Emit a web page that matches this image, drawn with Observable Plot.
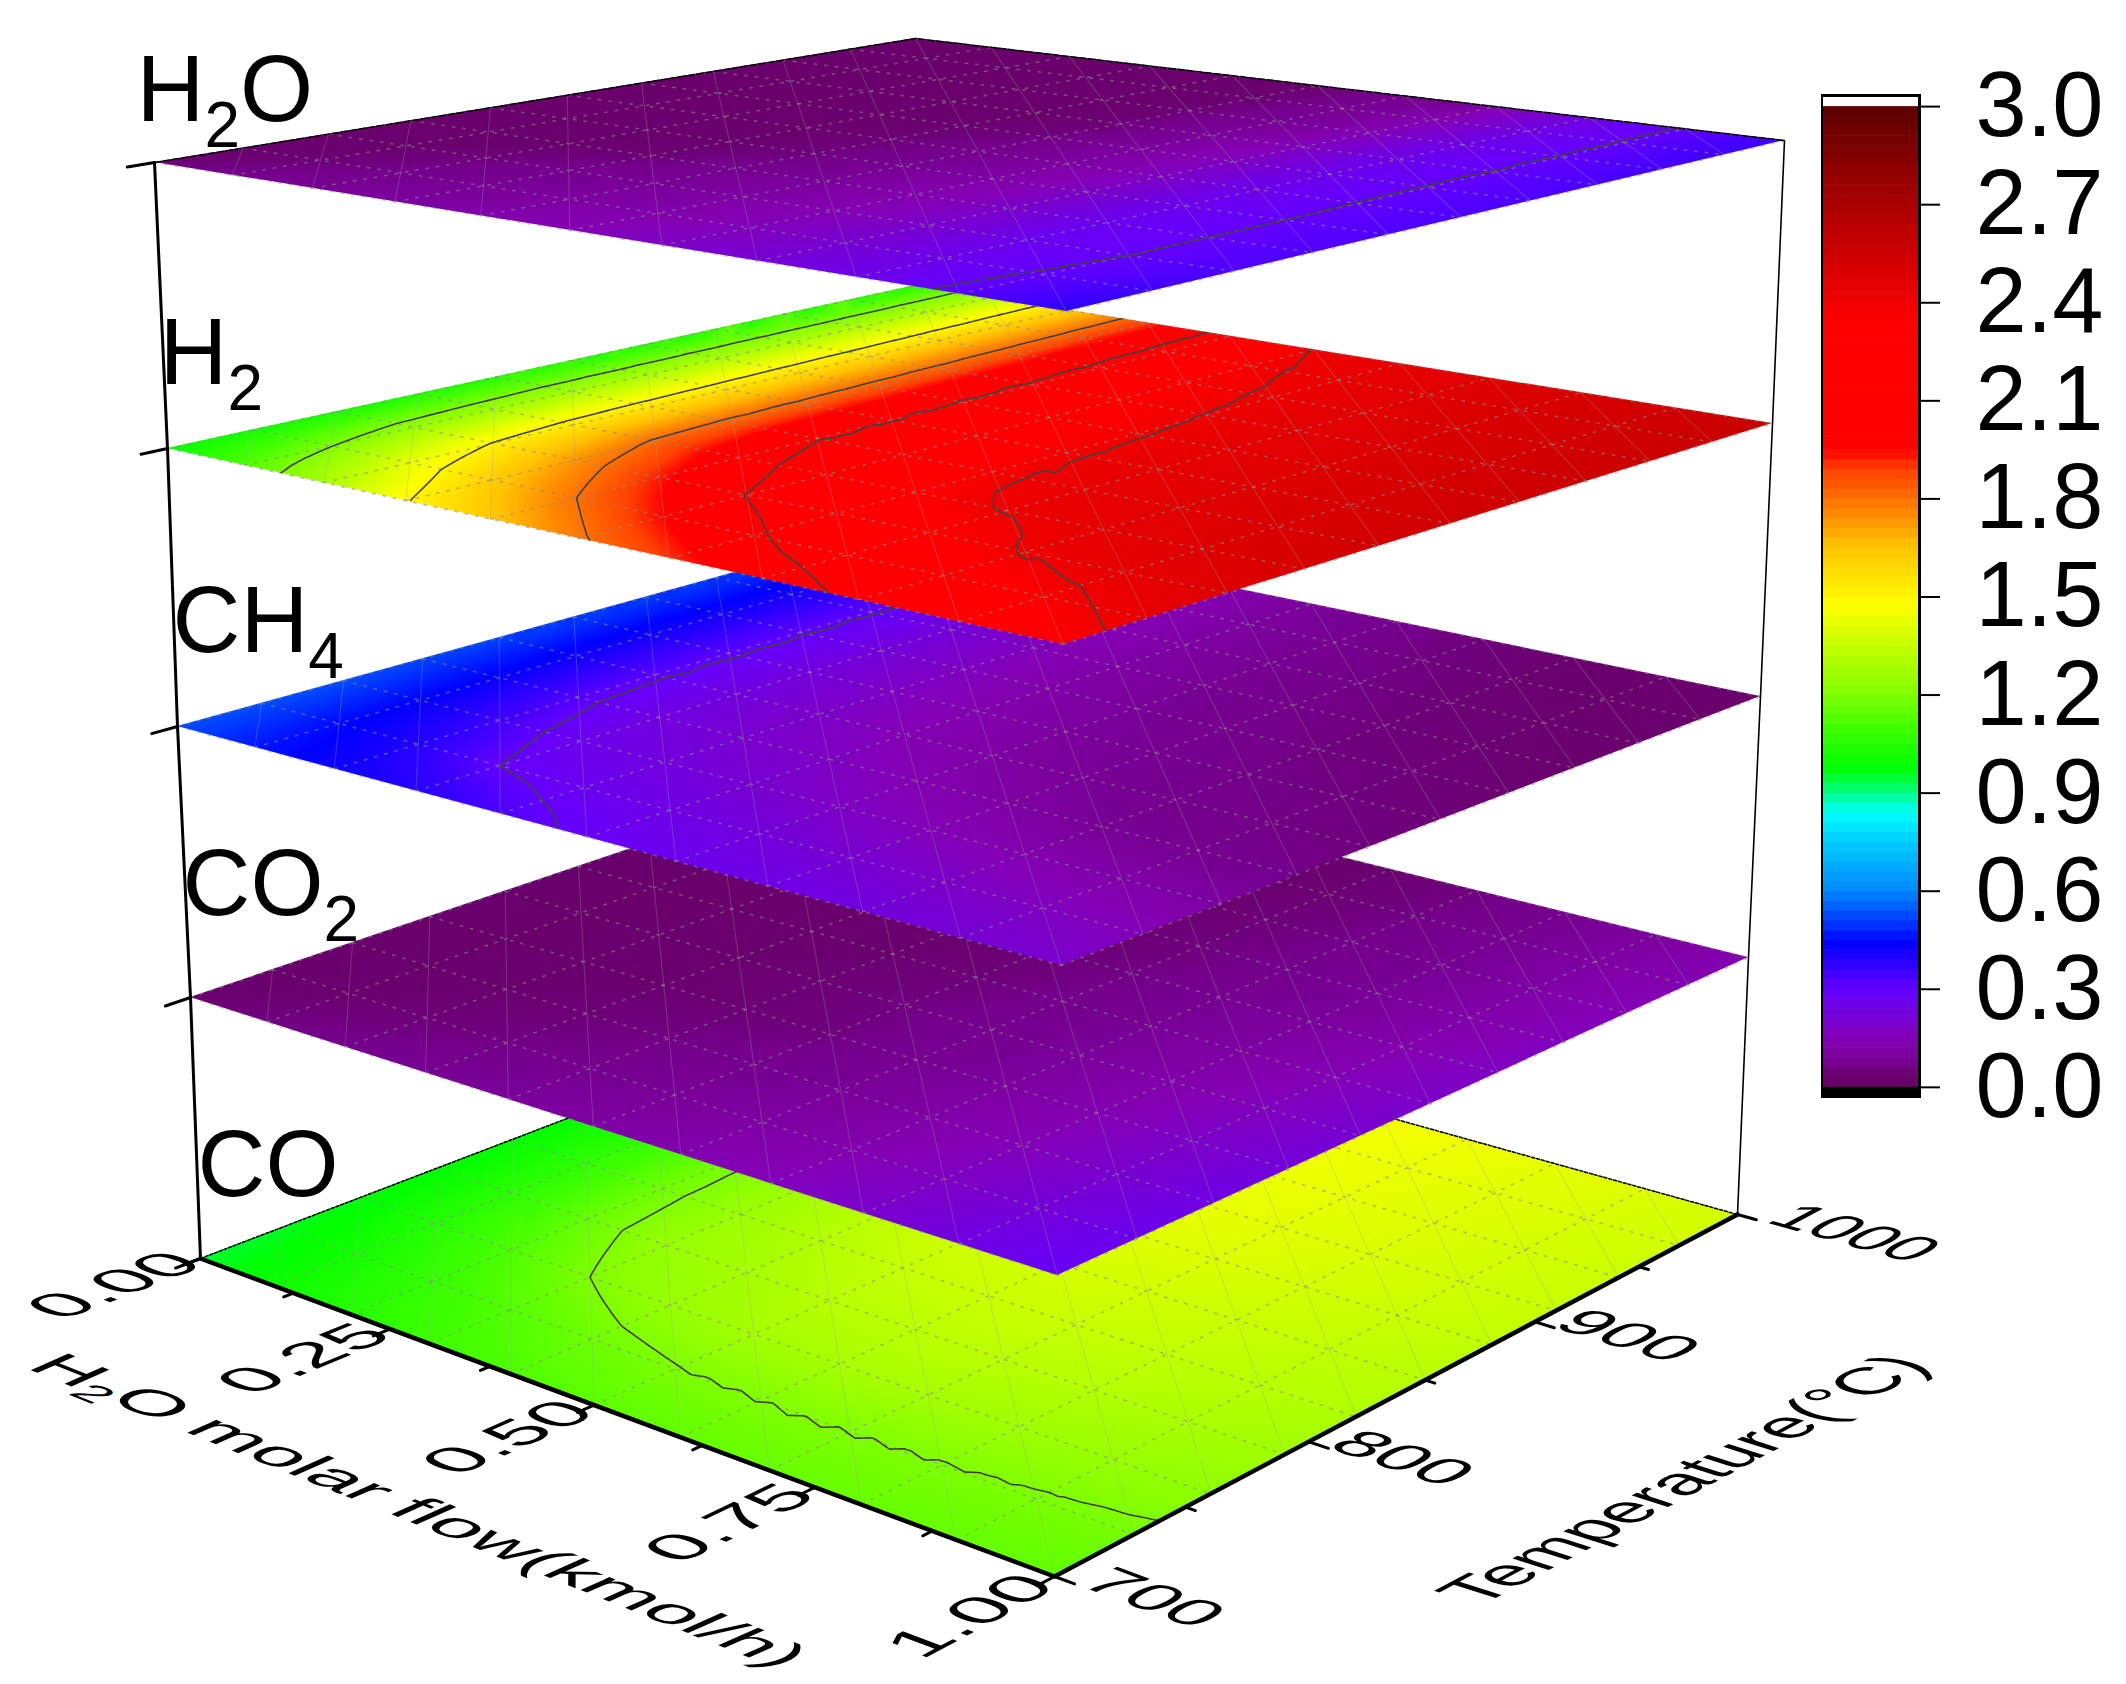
<!DOCTYPE html>
<html><head><meta charset="utf-8">
<script src="https://cdn.jsdelivr.net/npm/d3@7"></script>
<script src="https://cdn.jsdelivr.net/npm/@observablehq/plot@0.6"></script>
<style>
html,body{margin:0;background:#fff}
#wrap{position:relative;width:2126px;height:1684px;overflow:hidden}
#wrap svg{position:absolute;background:transparent}
</style></head><body><div id="wrap"></div>
<script>
// ---- data: rows are temperatures, columns are H2O molar flows
const flowGrid = [0, 0.1, 0.2, 0.3, 0.4, 0.5, 0.65, 0.8, 1];
const tempGrid = [700, 730, 760, 790, 820, 900, 1000];
const valuesH2O = [
  [.045,.065,.085,.105,.13,.155,.20,.255,.38],
  [.04,.045,.065,.085,.11,.135,.185,.26,.35],
  [.035,.04,.05,.07,.09,.115,.17,.27,.33],
  [.03,.035,.04,.045,.07,.10,.16,.27,.33],
  [.03,.03,.035,.04,.05,.08,.15,.27,.33],
  [.03,.03,.03,.035,.04,.045,.13,.27,.335],
  [.025,.03,.03,.03,.035,.04,.08,.25,.36]];
const valuesH2 = [
  [1.00,1.127,1.288,1.492,1.638,1.783,1.962,2.136,2.36],
  [1.02,1.196,1.424,1.621,1.80,1.948,2.144,2.286,2.44],
  [1.03,1.251,1.507,1.732,1.926,2.104,2.273,2.412,2.48],
  [1.04,1.268,1.542,1.815,2.028,2.188,2.387,2.445,2.51],
  [1.05,1.282,1.557,1.838,2.092,2.254,2.418,2.466,2.53],
  [1.05,1.299,1.582,1.862,2.124,2.321,2.436,2.485,2.55],
  [1.05,1.32,1.611,1.894,2.183,2.407,2.456,2.505,2.57]];
const valuesCH4 = [
  [.53,.465,.42,.39,.33,.285,.26,.235,.20],
  [.53,.45,.39,.30,.27,.25,.22,.19,.16],
  [.53,.44,.35,.26,.235,.21,.17,.14,.11],
  [.52,.43,.32,.24,.205,.18,.13,.085,.06],
  [.52,.42,.31,.235,.19,.15,.10,.065,.05],
  [.51,.41,.305,.225,.17,.12,.07,.05,.04],
  [.50,.40,.30,.215,.15,.10,.055,.04,.03]];
const valuesCO2 = [
  [.04,.055,.065,.08,.10,.115,.15,.20,.29],
  [.03,.04,.047,.056,.07,.09,.125,.18,.27],
  [.03,.035,.04,.047,.056,.07,.105,.16,.25],
  [.025,.03,.035,.04,.045,.052,.09,.145,.23],
  [.025,.03,.035,.04,.045,.053,.08,.13,.21],
  [.02,.02,.025,.03,.035,.04,.058,.09,.17],
  [.02,.02,.025,.03,.03,.035,.045,.07,.14]];
const valuesCO = [
  [.95,1.00,1.05,1.09,1.12,1.14,1.16,1.16,1.15],
  [.96,1.02,1.08,1.13,1.17,1.195,1.20,1.195,1.185],
  [.97,1.05,1.12,1.20,1.25,1.28,1.29,1.27,1.23],
  [.98,1.06,1.16,1.25,1.28,1.32,1.33,1.31,1.27],
  [.985,1.07,1.175,1.26,1.31,1.35,1.36,1.34,1.30],
  [.99,1.08,1.19,1.29,1.38,1.42,1.42,1.39,1.35],
  [1.00,1.10,1.21,1.33,1.42,1.46,1.45,1.42,1.38]];
const colorStops = [0, .04, .06, .15, .3, .44, .6, .75, .84, .92, .98, 1.1, 1.2, 1.475, 1.66, 1.74, 1.8, 1.89, 1.95, 2.34, 2.7, 3];
const colorRange = ["#660066","#6a006e","#74008a","#8400b4","#6400ff","#0000ff","#0088ff","#00ccff","#00ffff","#00ff60","#00ff00","#40ff00","#80ff00","#ffff00","#ffc000","#ff9000","#ff7000","#ff4000","#ff0000","#ff0000","#aa0000","#5c0000"];
const flowTicks = [0, 0.25, 0.5, 0.75, 1];
const flowMinorTicks = [0.125, 0.375, 0.625, 0.875];
const tempTicks = [700, 800, 900, 1000];
const tempMinorTicks = [750, 850, 950];
const legendTicks = [0, .3, .6, .9, 1.2, 1.5, 1.8, 2.1, 2.4, 2.7, 3];
const meshFlows = d3.range(11).map(i => i / 10);
const meshTemps = d3.range(11).map(i => 700 + i * 30);

// ---- layout: each surface plane seen in perspective
const layers = [
  {name:"CO",  values:valuesCO,  levels:[1.2], L:[200,1258], F:[1054,1576], R:[1737,1214], B:[915,985], label:[197,1195]},
  {name:"CO2", values:valuesCO2, levels:[],    L:[190,997],  F:[1057,1275], R:[1748,957],  B:[915,752], label:[182,914]},
  {name:"CH4", values:valuesCH4, levels:[.3],  L:[177,726],  F:[1061,965],  R:[1760,696],  B:[915,522], label:[172,651]},
  {name:"H2",  values:valuesH2,  levels:[1.2,1.5,1.8,2.1,2.4], L:[167,448], F:[1063,644], R:[1772,423], B:[915,285], label:[159,383]},
  {name:"H2O", values:valuesH2O, levels:[.3],  L:[154,162],  F:[1066,311],  R:[1784,140],  B:[915,38],  label:[136,120]}
];
const titles = {flow:[401,1518], temp:[1706,1486]};
const flowTitleDirection = [570,228];
const flowLabelShift = 24;
const tempLabelFlow = {700:1.081, 800:1.077, 900:1.078, 1000:1.105};

function homography({L,F,R,B}) {
  const dx1=F[0]-R[0], dx2=B[0]-R[0], sx=L[0]-F[0]+R[0]-B[0];
  const dy1=F[1]-R[1], dy2=B[1]-R[1], sy=L[1]-F[1]+R[1]-B[1];
  const den=dx1*dy2-dx2*dy1;
  const g=(sx*dy2-dx2*sy)/den, h=(dx1*sy-sx*dy1)/den;
  const a=F[0]-L[0]+g*F[0], b=B[0]-L[0]+h*B[0], c=L[0];
  const d=F[1]-L[1]+g*F[1], e=B[1]-L[1]+h*B[1], f=L[1];
  return (flow,T)=>{const u=flow, v=(T-700)/300, w=g*u+h*v+1; return [(a*u+b*v+c)/w,(d*u+e*v+f)/w];};
}
layers.forEach(l=>l.proj=homography(l));
const base = layers[0].proj;
const unit = ([x,y])=>{const n=Math.hypot(x,y);return [x/n,y/n];};
const dirFlow = (f,T)=>{const a=base(f,T),b=base(f+.02,T);return unit([b[0]-a[0],b[1]-a[1]]);};
const dirTemp = (f,T)=>{const a=base(f,T),b=base(f,T+5);return unit([b[0]-a[0],b[1]-a[1]]);};

// shading nodes of one surface: the read grid, its cells split evenly so the
// triangulation follows the grid, and a rim of edge values just outside the plane
const subdivide = grid => {
  const out=[grid[0]-(grid[grid.length-1]-grid[0])*.1];
  grid.forEach((g,i)=>{ if(i) for(let k=1;k<=4;k++) out.push(grid[i-1]+(g-grid[i-1])*k/4); else out.push(g); });
  out.push(grid[grid.length-1]+(grid[grid.length-1]-grid[0])*.1);
  return out;
};
const shadeFlows=subdivide(flowGrid), shadeTemps=subdivide(tempGrid);
function cellPos(grid,v){
  const c=Math.max(grid[0],Math.min(grid[grid.length-1],v));
  let i=0; while(i<grid.length-2&&c>grid[i+1]) i++;
  return [i,(c-grid[i])/(grid[i+1]-grid[i])];
}
function surfaceNodes(layer){
  const pts=[];
  for(const T of shadeTemps) for(const f of shadeFlows){
    const [i,s]=cellPos(tempGrid,T),[j,t]=cellPos(flowGrid,f),V=layer.values;
    const v=(1-s)*((1-t)*V[i][j]+t*V[i][j+1])+s*((1-t)*V[i+1][j]+t*V[i+1][j+1]);
    const [x,y]=layer.proj(f,T);
    pts.push({x,y,v});
  }
  return pts;
}

let clipId=0;
function clipTo(layer){
  const id="plane"+(clipId++);
  return (index,scales,values,dims,ctx,next)=>{
    const g=next(index,scales,values,dims,ctx);
    const ns="http://www.w3.org/2000/svg";
    const wrap=document.createElementNS(ns,"g");
    const cp=document.createElementNS(ns,"clipPath");
    cp.setAttribute("id",id);
    const poly=document.createElementNS(ns,"polygon");
    poly.setAttribute("points",[layer.L,layer.F,layer.R,layer.B].map(p=>scales.x(p[0])+","+scales.y(p[1])).join(" "));
    cp.appendChild(poly);wrap.appendChild(cp);wrap.appendChild(g);
    wrap.setAttribute("clip-path","url(#"+id+")");
    return wrap;
  };
}
function subscript(t,dy,size){
  const m=/^(\D*)(\d)(.*)$/.exec(t.textContent);
  if(!m) return;
  const ns="http://www.w3.org/2000/svg";
  t.textContent=m[1];
  const s=document.createElementNS(ns,"tspan");
  s.setAttribute("dy",dy);s.setAttribute("font-size",size);s.textContent=m[2];t.appendChild(s);
  if(m[3]){
    const r=document.createElementNS(ns,"tspan");
    r.setAttribute("dy",-dy);r.textContent=m[3];t.appendChild(r);
  }
}
// text lying flat on a plane: d.along / d.up are picture directions of baseline and letter height
function flatText(rows,sx,sy,options){
  return Plot.text(rows,{x:"x",y:"y",text:"text",textAnchor:"middle",lineAnchor:"middle",fill:"black",...options,
    render(index,scales,values,dims,ctx,next){
      const g=next(index,scales,values,dims,ctx);
      g.querySelectorAll("text").forEach((t,i)=>{
        const k=index[i],d=rows[k],s=d.sx||sx;
        t.removeAttribute("x");t.removeAttribute("y");
        t.setAttribute("transform",`matrix(${d.along[0]*s},${d.along[1]*s},${-d.up[0]*sy},${-d.up[1]*sy},${values.x[k]},${values.y[k]})`);
        if(d.sub) subscript(t,12,"0.68em");
      });
      return g;
    }});
}
const lineOf=(ps,o)=>Plot.line(ps.map(p=>({x:p[0],y:p[1]})),{x:"x",y:"y",stroke:"black",curve:"linear",...o});
const topLayer=layers[4],botLayer=layers[0];

// ---- surfaces
const marks=[];
for(const layer of layers){
  const pts=surfaceNodes(layer);
  marks.push(Plot.raster(pts,{x:"x",y:"y",fill:"v",interpolate:"barycentric",pixelSize:1,render:clipTo(layer)}));
  // mesh
  const dotted=[],steep=[];
  meshFlows.forEach((f,i)=>{const a=layer.proj(f,700),b=layer.proj(f,1000);dotted.push({x:a[0],y:a[1],z:"f"+i},{x:b[0],y:b[1],z:"f"+i});});
  meshTemps.forEach((T,i)=>{const a=layer.proj(0,T),b=layer.proj(1,T);dotted.push({x:a[0],y:a[1],z:"t"+i},{x:b[0],y:b[1],z:"t"+i});});
  for(let s=1;s<20;s++){
    const i0=Math.max(0,s-10),i1=Math.min(10,s);
    const a=layer.proj(meshFlows[i0],meshTemps[s-i0]),b=layer.proj(meshFlows[i1],meshTemps[s-i1]);
    steep.push({x:a[0],y:a[1],z:s},{x:b[0],y:b[1],z:s});
  }
  marks.push(Plot.line(dotted,{x:"x",y:"y",z:"z",stroke:"#8a8a8a",strokeOpacity:.55,strokeWidth:1.6,strokeDasharray:"2.5 8",curve:"linear"}));
  marks.push(Plot.line(steep,{x:"x",y:"y",z:"z",stroke:"#a0a0a0",strokeOpacity:.28,strokeWidth:1.2,curve:"linear"}));
  if(layer.levels.length)
    marks.push(Plot.contour(pts,{x:"x",y:"y",value:"v",interpolate:"barycentric",thresholds:layer.levels,fill:"none",stroke:"#404040",strokeWidth:1.6,render:clipTo(layer)}));
  if(layer===botLayer) marks.push(lineOf([botLayer.L,botLayer.B,botLayer.R],{strokeWidth:1.5,strokeDasharray:"3 2"}));
}

// ---- frame of the box
marks.push(lineOf(layers.map(l=>l.L),{strokeWidth:3}));
marks.push(lineOf(layers.map(l=>l.R),{strokeWidth:1.6}));
marks.push(lineOf([topLayer.L,topLayer.B,topLayer.R],{strokeWidth:1.5,strokeDasharray:"7 2"}));
marks.push(lineOf([botLayer.L,botLayer.F,botLayer.R],{strokeWidth:4.5}));
// level ticks on the left upright
const levelTicks=layers.flatMap(l=>{const a=l.proj(0,700),b=l.proj(0,691);return[{x:a[0],y:a[1],z:l.name},{x:b[0],y:b[1],z:l.name}];});
marks.push(Plot.line(levelTicks,{x:"x",y:"y",z:"z",stroke:"black",strokeWidth:3}));
// axis ticks
const tickSeg=(list,fn)=>list.flatMap((v,i)=>{const [a,b]=fn(v);return[{x:a[0],y:a[1],z:i},{x:b[0],y:b[1],z:i}];});
marks.push(Plot.line(tickSeg(flowTicks,f=>[base(f,700),base(f,694)]),{x:"x",y:"y",z:"z",stroke:"black",strokeWidth:3}));
marks.push(Plot.line(tickSeg(flowMinorTicks,f=>[base(f,700),base(f,696.5)]),{x:"x",y:"y",z:"z",stroke:"black",strokeWidth:3}));
marks.push(Plot.line(tickSeg(tempTicks,T=>[base(1,T),base(1.02,T)]),{x:"x",y:"y",z:"z",stroke:"black",strokeWidth:3}));
marks.push(Plot.line(tickSeg(tempMinorTicks,T=>[base(1,T),base(1.01,T)]),{x:"x",y:"y",z:"z",stroke:"black",strokeWidth:3}));

// ---- texts
const flowLabels=flowTicks.map(f=>{const p=base(f,668);return{x:p[0]+flowLabelShift,y:p[1],text:f.toFixed(2),along:dirTemp(f,700),up:dirFlow(f,700).map(v=>-v)};});
const tempLabels=tempTicks.map(T=>{const p=base(tempLabelFlow[T],T);return{x:p[0],y:p[1],text:String(T),sx:T===1000?1.15:1.27,along:dirFlow(1,T),up:dirTemp(1,T)};});
marks.push(flatText(flowLabels,1.34,1.1,{fontSize:60}));
marks.push(flatText(tempLabels,1.27,1,{fontSize:60}));
marks.push(flatText([{x:titles.flow[0],y:titles.flow[1],text:"H2O molar flow(kmol/h)",sub:true,along:unit(flowTitleDirection),up:dirTemp(.5,700)}],1.31,1,{fontSize:60}));
marks.push(flatText([{x:titles.temp[0],y:titles.temp[1],text:"Temperature(°C)",along:dirTemp(1,850),up:dirFlow(1,850).map(v=>-v)}],1.155,1.2,{fontSize:60}));
const layerLabels=layers.map(l=>({x:l.label[0],y:l.label[1],text:l.name}));
marks.push(Plot.text(layerLabels,{x:"x",y:"y",text:"text",fontSize:94,textAnchor:"start",lineAnchor:"bottom",fill:"black",
  render(index,scales,values,dims,ctx,next){
    const g=next(index,scales,values,dims,ctx);
    g.querySelectorAll("text").forEach(t=>subscript(t,26,"0.68em"));
    return g;
  }}));

const colorScale={type:"linear",domain:colorStops,range:colorRange,clamp:true,legend:false};
const chart=Plot.plot({
  width:2126,height:1684,margin:0,
  style:{fontFamily:"'Liberation Sans',Arial,sans-serif",background:"transparent"},
  x:{domain:[0,2126],range:[0,2126],axis:null},
  y:{domain:[0,1684],range:[0,1684],axis:null},
  color:colorScale,
  marks
});
chart.style.left="0";chart.style.top="0";
document.getElementById("wrap").appendChild(chart);

// ---- colour bar
const barCells=d3.range(0,100).map(i=>i*.03);
const bar=Plot.plot({
  width:305,height:1684,marginLeft:0,marginRight:207,marginTop:95,marginBottom:588,
  style:{fontFamily:"'Liberation Sans',Arial,sans-serif",background:"transparent"},
  x:{domain:[0,1],axis:null},
  y:{domain:[-.028,3.034],axis:null},
  color:colorScale,
  marks:[
    Plot.rect(barCells,{x1:()=>0,x2:()=>1,y1:d=>d,y2:d=>d+.03,fill:d=>d+.015,inset:-.3}),
    Plot.rect([0],{x1:()=>0,x2:()=>1,y1:()=>-.028,y2:()=>0,fill:"black"}),
    Plot.rect([0],{x1:()=>0,x2:()=>1,y1:()=>3,y2:()=>3.034,fill:"white"}),
    Plot.frame({stroke:"black",strokeWidth:3}),
    Plot.axisY(legendTicks,{anchor:"right",tickSize:20,tickPadding:36,strokeWidth:2,fontSize:92,tickFormat:d3.format(".1f"),fill:"black",stroke:"black",label:null})
  ]
});
bar.style.left="1821px";bar.style.top="0";
document.getElementById("wrap").appendChild(bar);
</script></body></html>
